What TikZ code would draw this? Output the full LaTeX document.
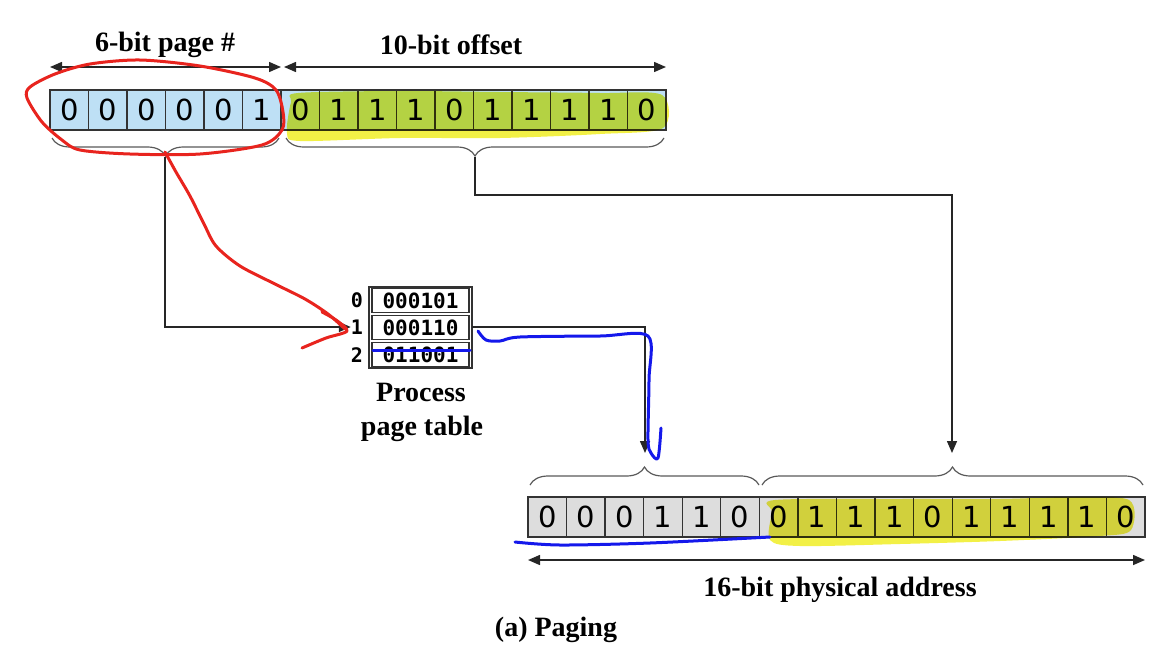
\documentclass[tikz,border=0pt]{standalone}
\usepackage{fontspec}
\setmainfont{Liberation Serif}
\newfontfamily\bitfont{DejaVu Sans Mono}
\newfontfamily\cellfont{DejaVu Sans}
\usetikzlibrary{arrows.meta,decorations.pathreplacing,calc}
\definecolor{bluec}{RGB}{190,224,245}
\definecolor{greyc}{RGB}{221,221,221}
\definecolor{hlc}{RGB}{242,240,70}
\definecolor{redann}{RGB}{232,36,30}
\definecolor{blueann}{RGB}{20,24,235}
\begin{document}
\begin{tikzpicture}[x=1pt,y=-1pt,
  cellbase/.style={draw=black!80,line width=1.3pt,minimum width=38.5pt,minimum height=40pt,inner sep=0pt,font=\cellfont\fontsize{29}{30}\selectfont},
  cellt/.style={cellbase,fill=bluec},
  cellb/.style={cellbase,fill=greyc,minimum width=38.56pt},
  rowbox/.style={draw=black!80,line width=1.3pt,minimum width=97pt,minimum height=24pt,inner sep=0pt,font=\bitfont\bfseries\fontsize{21}{22}\selectfont},
  rowlab/.style={inner sep=0pt,font=\bitfont\bfseries\fontsize{20}{22}\selectfont},
  lab/.style={inner sep=0pt,font=\bfseries\fontsize{28}{30}\selectfont},
  dim/.style={line width=1.5pt,draw=black!85,{Triangle[length=12pt,width=10pt]}-{Triangle[length=12pt,width=10pt]}},
  conn/.style={line width=1.5pt,draw=black!85,-{Triangle[length=12pt,width=10pt]}},
  brc/.style={decorate,decoration={brace,amplitude=18pt,aspect=0.5},draw=black!65,line width=1.2pt},
  hl/.style={fill=hlc,blend mode=multiply},
  redpen/.style={draw=redann,line width=3pt,line cap=round,line join=round},
  bluepen/.style={draw=blueann,line width=3pt,line cap=round,line join=round}
]
\useasboundingbox (0,0) rectangle (1172,662);

% top register
\foreach \b [count=\i from 0] in {0,0,0,0,0,1,0,1,1,1,0,1,1,1,1,0}
  \node[cellt] (t\i) at ({50+38.5*(\i+0.5)},110) {\b};

% dimension arrows on top
\coordinate (pa) at (50,67);
\coordinate (pb) at (281,67);
\coordinate (oa) at (284,67);
\coordinate (ob) at (666,67);
\draw[dim] (pa) -- (pb);
\draw[dim] (oa) -- (ob);
\node[lab] (lpage) at (165,45) {6-bit page \#};
\node[lab] (loff) at (451,45) {10-bit offset};

% braces under top register
\draw[brc] (279,138) -- (52,138);
\draw[brc] (664,138) -- (286,138);
\coordinate (tb1) at (165,157);
\coordinate (tb2) at (475,157);

% page table
\node[rowbox] (r0) at (420.5,300.5) {000101};
\node[rowbox] (r1) at (420.5,327.5) {000110};
\node[rowbox] (r2) at (420.5,354.5) {011001};
\draw[draw=black!80,line width=1.5pt] (369,287) rectangle (472,368);
\node[rowlab] (l0) at (357,300) {0};
\node[rowlab] (l1) at (357,327) {1};
\node[rowlab] (l2) at (357,355) {2};
\node[lab] (pt1) at (421,392) {Process};
\node[lab] (pt2) at (422,429) {page table};

% bottom register
\foreach \b [count=\i from 0] in {0,0,0,1,1,0,0,1,1,1,0,1,1,1,1,0}
  \node[cellb] (b\i) at ({528+38.56*(\i+0.5)},517) {\b};

% braces above bottom register
\draw[brc] (530,485) -- (759,485);
\draw[brc] (762,485) -- (1143,485);
\coordinate (bb1) at (645,467);
\coordinate (bb2) at (952,467);

% bottom dimension arrow
\coordinate (fa) at (528,560);
\coordinate (fb) at (1145,560);
\draw[dim] (fa) -- (fb);
\node[lab] (lphys) at (840,590) {16-bit physical address};
\node[lab] (cap) at (556,630) {(a) Paging};

% connectors
\coordinate (c1) at (475,195);
\draw[conn] (tb1) |- (l1.west);
\draw[conn,shorten >=14pt] (tb2) -- (c1) -| (bb2);
\draw[conn,shorten >=14pt] (472,327) -| (bb1);

% highlights
\fill[hl] plot[smooth cycle] coordinates {(298,93) (400,91) (500,92) (600,93) (662,95) (663,128) (600,134) (500,138) (400,138) (300,141) (287,133) (291,102)};
\fill[hl] plot[smooth cycle] coordinates {(775,500) (900,499) (1000,499) (1070,497) (1129,500) (1131,530) (1100,536) (1000,541) (900,544) (800,546) (770,540) (772,512)};

% red annotation
\draw[redpen] plot[smooth cycle] coordinates {(283,112) (276,90) (255,78) (200,66) (140,60) (90,64) (55,74) (30,87) (27,98) (42,122) (62,140) (80,150) (130,154) (200,154) (262,145) (282,130)};
\draw[redpen] plot[smooth] coordinates {(165,152) (176,172) (190,196) (204,224) (216,246) (240,266) (275,284) (305,299) (328,314) (345,329)};
\draw[redpen] plot[smooth] coordinates {(322,312) (336,320) (347,331) (326,338) (302,348)};

% blue annotation
\draw[bluepen] plot[smooth] coordinates {(478,331) (486,340) (500,341) (520,337) (600,336) (648,336) (649,380) (648,440) (651,453) (658,458) (661,428)};
\draw[bluepen] (373,350) -- (470,350);
\draw[bluepen] plot[smooth] coordinates {(515,542) (560,545) (650,543) (770,537)};
\end{tikzpicture}
\end{document}
